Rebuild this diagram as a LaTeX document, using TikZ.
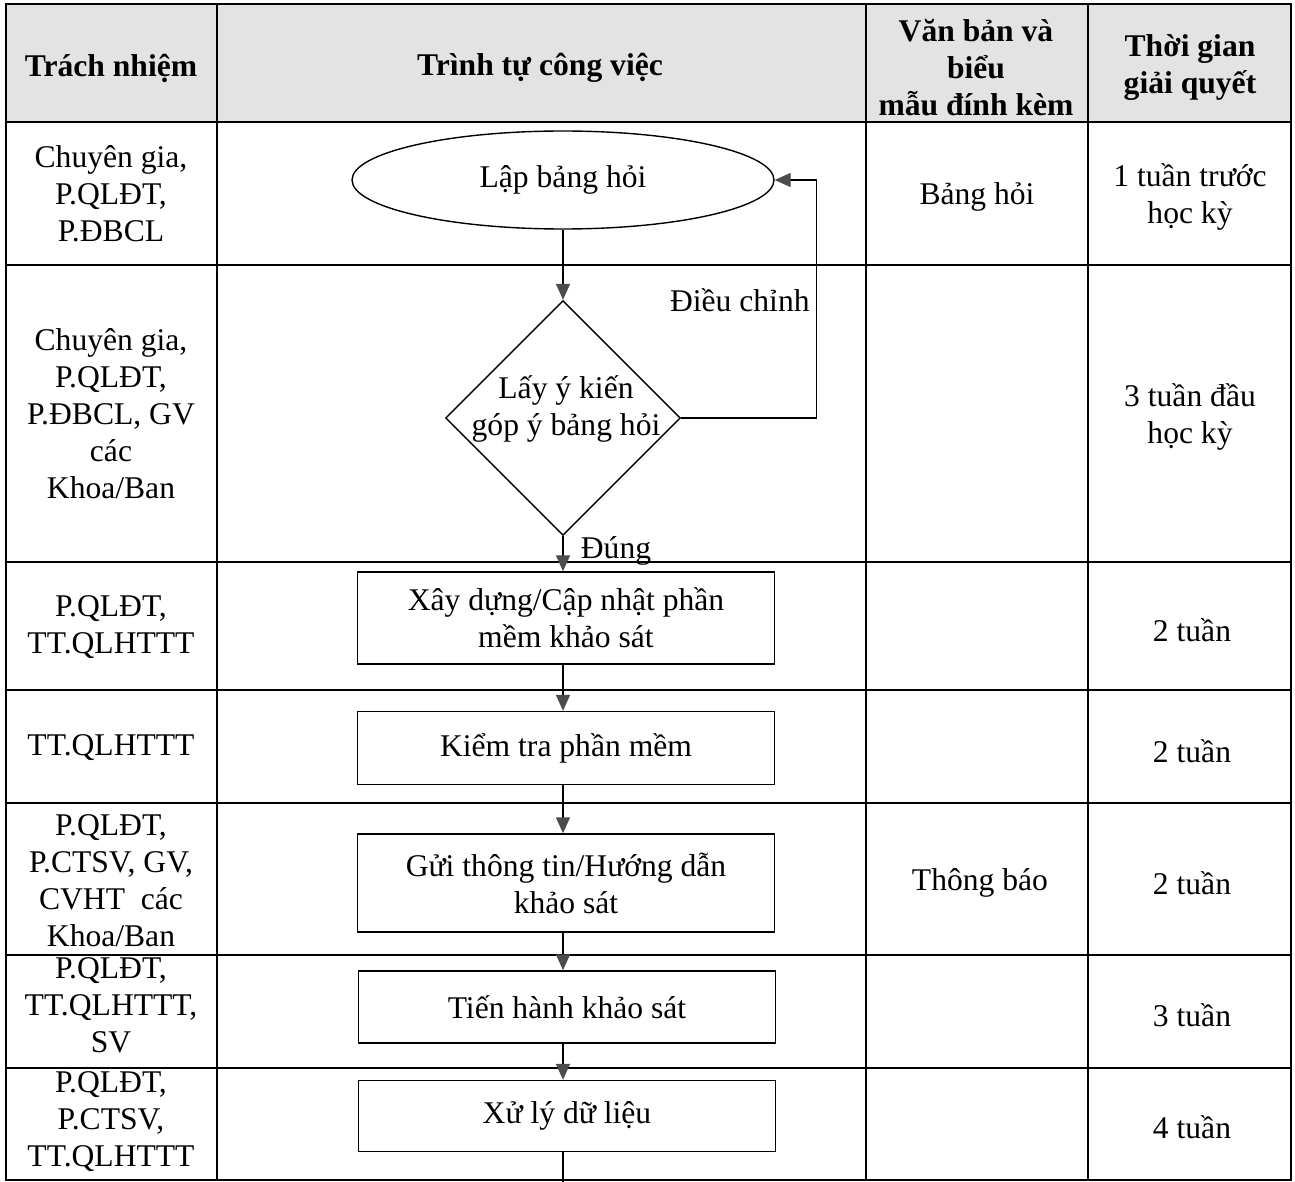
\documentclass[tikz,border=0pt]{standalone}
\usepackage{fontspec}
\setmainfont{Liberation Serif}
\usetikzlibrary{shapes.geometric,arrows.meta}
\begin{document}
\begin{tikzpicture}[x=0.5pt,y=-0.5pt,
  every node/.style={font=\fontsize{15.8}{18.5}\selectfont, inner sep=0pt},
  hdr/.style={font=\fontsize{15.8}{18.5}\selectfont\bfseries, align=center},
  txt/.style={align=center},
  grid/.style={line width=1.1pt},
  flow/.style={line width=0.7pt},
  arr/.style={flow,-{Triangle[width=7pt,length=8pt,color=black!70]}},
  box/.style={draw,flow,rectangle,align=center,minimum width=208.5pt}]
\useasboundingbox (0,0) rectangle (1295,1182);
% header shading
\fill[gray!22] (6,4) rectangle (1291,122);
% grid
\draw[grid] (6,4) rectangle (1291,1180);
\foreach \yy in {122,265,562,690,803,955,1068} \draw[grid] (6,\yy) -- (1291,\yy);
\foreach \xx in {217,866,1088} \draw[grid] (\xx,4) -- (\xx,1180);
% header
\node[hdr] (h1) at (111,68) {Trách nhiệm};
\node[hdr] (h2) at (540,68) {Trình tự công việc};
\node[hdr] (h3) at (976,68) {Văn bản và\\biểu\\mẫu đính kèm};
\node[hdr] (h4) at (1190,68) {Thời gian\\giải quyết};
% column 1
\node[txt] (r1) at (111,194) {Chuyên gia,\\P.QLĐT,\\P.ĐBCL};
\node[txt] (r2) at (111,414) {Chuyên gia,\\P.QLĐT,\\P.ĐBCL, GV\\các\\Khoa/Ban};
\node[txt] (r3) at (111,627) {P.QLĐT,\\TT.QLHTTT};
\node[txt] (r4) at (111,748) {TT.QLHTTT};
\node[txt] (r5) at (111,881) {P.QLĐT,\\P.CTSV, GV,\\CVHT\ \ các\\Khoa/Ban};
\node[txt] (r6) at (111,1005) {P.QLĐT,\\TT.QLHTTT,\\SV};
\node[txt] (r7) at (111,1122) {P.QLĐT,\\P.CTSV,\\TT.QLHTTT};
% column 3
\node[txt] (v1) at (977,197) {Bảng hỏi};
\node[txt] (v5) at (980,883) {Thông báo};
% column 4
\node[txt] (t1) at (1190,197) {1 tuần trước\\học kỳ};
\node[txt] (t2) at (1190,417) {3 tuần đầu\\học kỳ};
\node[txt] (t3) at (1192,630) {2 tuần};
\node[txt] (t4) at (1192,751) {2 tuần};
\node[txt] (t5) at (1192,883) {2 tuần};
\node[txt] (t6) at (1192,1015) {3 tuần};
\node[txt] (t7) at (1192,1127) {4 tuần};
% flowchart
\node[draw,flow,ellipse,minimum width=211pt,minimum height=49pt] (ell) at (563,180) {Lập bảng hỏi};
\node[draw,flow,diamond,minimum width=117.5pt,minimum height=117.5pt] (dia) at (563,418) {};
\node[txt] (diat) at (566,409) {Lấy ý kiến\\góp ý bảng hỏi};
\node[box,minimum height=46pt] (b1) at (566,618) {Xây dựng/Cập nhật phần\\mềm khảo sát};
\node[box,minimum height=36.5pt] (b2) at (566,748) {Kiểm tra phần mềm};
\node[box,minimum height=49pt] (b3) at (566,883) {Gửi thông tin/Hướng dẫn\\khảo sát};
\node[box,minimum height=36pt] (b4) at (567,1007) {Tiến hành khảo sát};
\node[box,minimum height=35.5pt] (b5) at (567,1116) {Xử lý dữ liệu};
\coordinate (bot) at (563,1182);
\draw[arr] (ell.south) -- (dia.north);
\draw[arr] (dia.east) -- ++(135,0) |- (ell.east);
\node[anchor=east] (lbl1) at (810,300) {Điều chỉnh};
\draw[arr] (dia.south) -- (dia.south |- b1.north);
\node (lbl2) at (616,551) {Đúng};
\draw[arr] (b1.south -| dia) -- (b2.north -| dia);
\draw[arr] (b2.south -| dia) -- (b3.north -| dia);
\draw[arr] (b3.south -| dia) -- (b4.north -| dia);
\draw[arr] (b4.south -| dia) -- (b5.north -| dia);
\draw[flow] (b5.south -| dia) -- (bot);
\end{tikzpicture}
\end{document}
